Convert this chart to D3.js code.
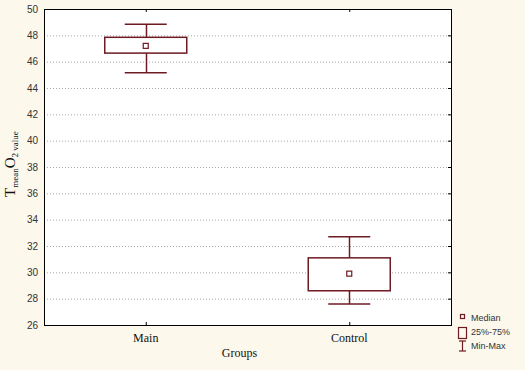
<!DOCTYPE html>
<html>
<head>
<meta charset="utf-8">
<script src="https://cdn.jsdelivr.net/npm/d3@7"></script>
<style>
  body { margin: 0; background: #fdf8ec; }
  svg { display: block; }
</style>
</head>
<body>
<div id="chart"></div>
<script>
// data
var groups = ["Main", "Control"];
var mins = [45.15, 27.6];
var q1s = [46.65, 28.6];
var medians = [47.2, 29.9];
var q3s = [47.85, 31.1];
var maxs = [48.85, 32.7];
var yTicks = [26, 28, 30, 32, 34, 36, 38, 40, 42, 44, 46, 48, 50];
var legendLabels = ["Median", "25%-75%", "Min-Max"];

var margin = {top: 9, right: 74, bottom: 45, left: 44},
    width = 525 - margin.left - margin.right,
    height = 370 - margin.top - margin.bottom;

var col = "#6e1a22";
var serif = "'Liberation Serif', 'Times New Roman', serif";
var sans = "'Liberation Sans', Arial, sans-serif";

var svg = d3.select("#chart").append("svg")
    .attr("width", 525)
    .attr("height", 370);

var g = svg.append("g")
    .attr("transform", "translate(" + margin.left + "," + margin.top + ")");

var x = d3.scalePoint()
    .domain(groups)
    .range([0, width])
    .padding(0.5);

var y = d3.scaleLinear()
    .domain([26, 50])
    .range([height, 0]);

// plot background
g.append("rect")
    .attr("width", width)
    .attr("height", height)
    .attr("fill", "#ffffff");

// grid
g.selectAll(".grid")
  .data(yTicks.slice(1, -1))
  .enter().append("line")
    .attr("x1", 0).attr("x2", width)
    .attr("y1", function(d) { return y(d) + 0.5; })
    .attr("y2", function(d) { return y(d) + 0.5; })
    .attr("stroke", "#a8a8a8")
    .attr("stroke-dasharray", "1,2");

// left axis labels
g.append("g")
    .call(d3.axisLeft(y).tickValues(yTicks).tickSize(0).tickPadding(6))
    .call(function(a) { a.select(".domain").remove(); })
    .selectAll("text")
      .style("font-family", sans)
      .attr("font-size", 10)
      .attr("fill", "#333");

// right side small ticks
g.append("g")
    .attr("transform", "translate(" + width + ",0)")
    .call(d3.axisLeft(y).tickValues(yTicks).tickSize(3).tickFormat(""))
    .call(function(a) { a.select(".domain").remove(); })
    .selectAll("line").attr("stroke", "#000");

// top and bottom small ticks at group positions
g.append("g")
    .call(d3.axisBottom(x).tickSize(3).tickFormat(""))
    .call(function(a) { a.select(".domain").remove(); })
    .selectAll("line").attr("stroke", "#000");
g.append("g")
    .attr("transform", "translate(0," + height + ")")
    .call(d3.axisTop(x).tickSize(3).tickFormat(""))
    .call(function(a) { a.select(".domain").remove(); })
    .selectAll("line").attr("stroke", "#000");

// frame
g.append("rect")
    .attr("x", 0.5).attr("y", 0.5)
    .attr("width", width).attr("height", height)
    .attr("fill", "none")
    .attr("stroke", "#000")
    .attr("stroke-width", 1);

// boxes
var boxW = 82, capW = 42, medS = 5;
var boxes = g.selectAll(".box")
  .data(groups)
  .enter().append("g");

boxes.append("line")
    .attr("x1", function(d) { return Math.round(x(d)) + 0.5; })
    .attr("x2", function(d) { return Math.round(x(d)) + 0.5; })
    .attr("y1", function(d, i) { return y(maxs[i]); })
    .attr("y2", function(d, i) { return y(q3s[i]); })
    .attr("stroke", col).attr("stroke-width", 1.5);
boxes.append("line")
    .attr("x1", function(d) { return Math.round(x(d)) + 0.5; })
    .attr("x2", function(d) { return Math.round(x(d)) + 0.5; })
    .attr("y1", function(d, i) { return y(q1s[i]); })
    .attr("y2", function(d, i) { return y(mins[i]); })
    .attr("stroke", col).attr("stroke-width", 1.5);
boxes.append("line")
    .attr("x1", function(d) { return x(d) - capW / 2; })
    .attr("x2", function(d) { return x(d) + capW / 2; })
    .attr("y1", function(d, i) { return y(maxs[i]); })
    .attr("y2", function(d, i) { return y(maxs[i]); })
    .attr("stroke", col).attr("stroke-width", 1.5);
boxes.append("line")
    .attr("x1", function(d) { return x(d) - capW / 2; })
    .attr("x2", function(d) { return x(d) + capW / 2; })
    .attr("y1", function(d, i) { return y(mins[i]); })
    .attr("y2", function(d, i) { return y(mins[i]); })
    .attr("stroke", col).attr("stroke-width", 1.5);
boxes.append("rect")
    .attr("x", function(d) { return x(d) - boxW / 2; })
    .attr("y", function(d, i) { return y(q3s[i]); })
    .attr("width", boxW)
    .attr("height", function(d, i) { return y(q1s[i]) - y(q3s[i]); })
    .attr("fill", "#fff")
    .attr("stroke", col).attr("stroke-width", 1.5);
boxes.append("rect")
    .attr("x", function(d) { return x(d) - medS / 2; })
    .attr("y", function(d, i) { return y(medians[i]) - medS / 2; })
    .attr("width", medS).attr("height", medS)
    .attr("fill", "#fff")
    .attr("stroke", col).attr("stroke-width", 1.2);

// group labels
g.selectAll(".glabel")
  .data(groups)
  .enter().append("text")
    .attr("x", function(d) { return x(d); })
    .attr("y", height + 17)
    .attr("text-anchor", "middle")
    .style("font-family", serif)
    .attr("font-size", 12)
    .attr("fill", "#111")
    .text(function(d) { return d; });

// x title
svg.append("text")
    .attr("x", margin.left + width / 2 - 8)
    .attr("y", 357)
    .attr("text-anchor", "middle")
    .style("font-family", serif)
    .attr("font-size", 12)
    .attr("fill", "#111")
    .text("Groups");

// y title with subscripts
var yt = svg.append("text")
    .attr("transform", "translate(15," + (margin.top + height / 2 - 3) + ") rotate(-90)")
    .attr("text-anchor", "middle")
    .style("font-family", serif)
    .attr("fill", "#111");
yt.append("tspan").attr("font-size", 15).text("T");
yt.append("tspan").attr("font-size", 9).attr("dy", 3).text("mean");
yt.append("tspan").attr("font-size", 15).attr("dy", -3).text("O");
yt.append("tspan").attr("font-size", 9).attr("dy", 3).text("2 value");

// legend
var lg = svg.append("g")
    .attr("transform", "translate(458,312)");
var legendRows = lg.selectAll(".row")
  .data(legendLabels)
  .enter().append("g")
    .attr("transform", function(d, i) { return "translate(0," + (i * 14) + ")"; });
legendRows.append("text")
    .attr("x", 13)
    .attr("y", 9)
    .style("font-family", sans)
    .attr("font-size", 9)
    .attr("fill", "#333")
    .text(function(d) { return d; });
lg.append("rect")
    .attr("x", 2.5).attr("y", 2.5).attr("width", 4).attr("height", 4)
    .attr("fill", "none").attr("stroke", col).attr("stroke-width", 1.2);
lg.append("rect")
    .attr("x", 0.5).attr("y", 15.5).attr("width", 8).attr("height", 11)
    .attr("fill", "none").attr("stroke", col).attr("stroke-width", 1.2);
lg.append("line")
    .attr("x1", 4.5).attr("x2", 4.5).attr("y1", 29).attr("y2", 39)
    .attr("stroke", col).attr("stroke-width", 1.2);
lg.append("line")
    .attr("x1", 1).attr("x2", 8).attr("y1", 29).attr("y2", 29)
    .attr("stroke", col).attr("stroke-width", 1.2);
lg.append("line")
    .attr("x1", 1).attr("x2", 8).attr("y1", 39).attr("y2", 39)
    .attr("stroke", col).attr("stroke-width", 1.2);
</script>
</body>
</html>
